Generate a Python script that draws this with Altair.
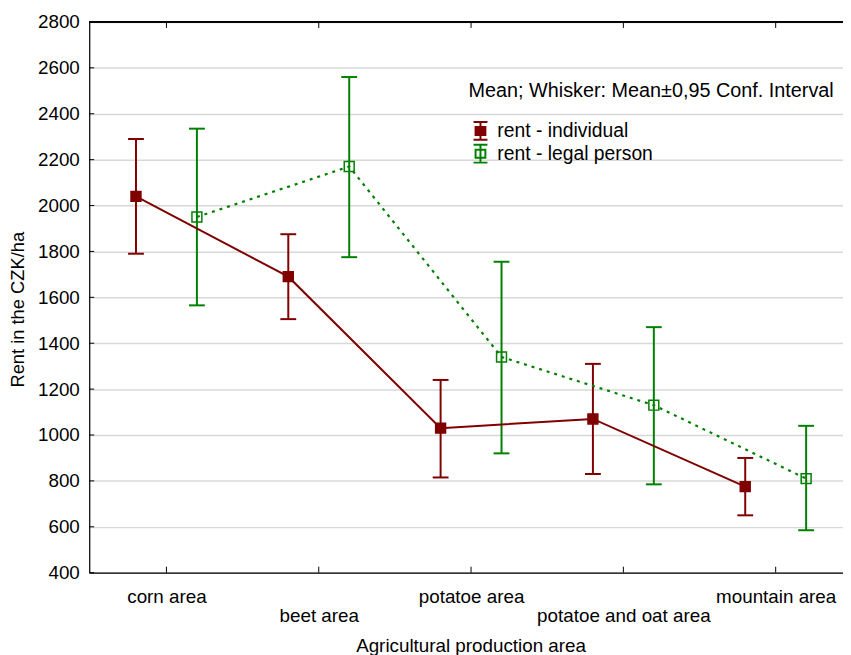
import altair as alt
import pandas as pd

categories = ["corn area", "beet area", "potatoe area", "potatoe and oat area", "mountain area"]
series_names = ["rent - individual", "rent - legal person"]
ind_mean = [2040, 1690, 1030, 1070, 775]
ind_low = [1790, 1505, 815, 830, 650]
ind_high = [2290, 1875, 1240, 1310, 900]
leg_mean = [1950, 2170, 1340, 1130, 810]
leg_low = [1565, 1775, 920, 785, 585]
leg_high = [2335, 2560, 1755, 1470, 1040]
y_ticks = list(range(400, 2801, 200))

RED = "#800000"
GREEN = "#008000"
FONT = "Liberation Sans"
DODGE = 0.2
CAP = 0.052

rows = []
for k, (s, means, lows, highs) in enumerate([(series_names[0], ind_mean, ind_low, ind_high),
                                             (series_names[1], leg_mean, leg_low, leg_high)]):
    off = -DODGE if k == 0 else DODGE
    for i, c in enumerate(categories):
        rows.append({"series": s, "cat": c, "idx": i, "x": i + off,
                     "xa": i + off - CAP, "xb": i + off + CAP,
                     "mean": means[i], "low": lows[i], "high": highs[i]})
df = pd.DataFrame(rows)
caps = pd.concat([df.assign(v=df["low"]), df.assign(v=df["high"])])
cat_df = pd.DataFrame({"idx": list(range(len(categories)))})
ytick_df = pd.DataFrame({"v": y_ticks})

xscale = alt.Scale(domain=[-0.507, 4.442], nice=False, zero=False)
yscale = alt.Scale(domain=[400, 2800], nice=False, zero=False)
stroke_scale = alt.Scale(domain=series_names, range=[RED, GREEN])
fill_scale = alt.Scale(domain=series_names, range=[RED, "transparent"])

names_js = "[" + ",".join("'" + c + "'" for c in categories) + "]"
label_expr = f"datum.value % 2 == 1 ? ['', {names_js}[datum.value]] : {names_js}[datum.value]"

x_axis = alt.Axis(values=list(range(len(categories))), labelExpr=label_expr,
                  ticks=False, grid=False, domainColor="black", domainWidth=1.2,
                  labelFontSize=19, labelColor="black", labelPadding=15,
                  labelLineHeight=19.5, labelFont=FONT, labelAngle=0,
                  title="Agricultural production area", titleFontSize=19,
                  titleFontWeight="normal", titleColor="black", titleFont=FONT,
                  titlePadding=11, titleX=385, labelFlush=False, labelOverlap=False)
y_axis = alt.Axis(values=y_ticks, format="d", ticks=False, grid=True, gridColor="#d8d8d8",
                  gridWidth=1.5, domainColor="black", domainWidth=1.2, labelFontSize=19,
                  labelColor="black", labelPadding=10, labelFont=FONT,
                  title="Rent in the CZK/ha", titleFontSize=18.5, titleFontWeight="normal",
                  titleColor="black", titleFont=FONT, titleX=-72, titleY=290,
                  titleBaseline="middle", labelFlush=False)

legend_symbol = ("M0,-1V1M-0.78,-1H0.78M-0.78,1H0.78"
                 "M-0.55,-0.45H0.55V0.45H-0.55Z")
leg_title = "Mean; Whisker: Mean±0,95 Conf. Interval"
legend_def = alt.Legend(title=leg_title, orient="none", legendX=383, legendY=60,
                        symbolType=legend_symbol, symbolSize=324, symbolStrokeWidth=2,
                        symbolOffset=2, labelFontSize=19.5, labelFont=FONT, labelColor="black",
                        titleFontSize=20, titleFont=FONT, titleFontWeight="normal",
                        titleColor="black", titlePadding=20, rowPadding=-3, padding=0,
                        labelOffset=7, titleLimit=500)

X = lambda f: alt.X(f, scale=xscale, axis=x_axis)
Y = lambda f: alt.Y(f, scale=yscale, axis=y_axis)
S = alt.Stroke("series:N", scale=stroke_scale, legend=legend_def)

base = alt.Chart(df)

line_ind = base.transform_filter(alt.datum.series == series_names[0]).mark_line(
    strokeWidth=2).encode(x=X("x:Q"), y=Y("mean:Q"), stroke=S)
line_leg = base.transform_filter(alt.datum.series == series_names[1]).mark_line(
    strokeWidth=2.2, strokeDash=[3, 5]).encode(x=X("x:Q"), y=Y("mean:Q"), stroke=S)

whiskers = base.mark_rule(strokeWidth=2).encode(
    x=X("x:Q"), y=Y("low:Q"), y2="high:Q", stroke=S)

capmarks = alt.Chart(caps).mark_rule(strokeWidth=2).encode(
    x=X("xa:Q"), x2="xb:Q", y=Y("v:Q"), stroke=S)

points = base.mark_point(shape="square", size=100, strokeWidth=1.5, opacity=1).encode(
    x=X("x:Q"), y=Y("mean:Q"), stroke=S,
    fill=alt.Fill("series:N", scale=fill_scale, legend=legend_def),
)

left_ticks = alt.Chart(ytick_df).mark_rule(color="black", strokeWidth=1).encode(
    y=Y("v:Q"), x=alt.value(0), x2=alt.value(5))

bottom_ticks = alt.Chart(cat_df).mark_rule(color="black", strokeWidth=1).encode(
    x=X("idx:Q"), y=alt.value(556), y2=alt.value(550))

top_ticks = alt.Chart(cat_df).mark_rule(color="black", strokeWidth=1).encode(
    x=X("idx:Q"), y=alt.value(0), y2=alt.value(6))

top_line = alt.Chart(cat_df).mark_rule(color="black", strokeWidth=1.2).encode(
    x=alt.value(0), x2=alt.value("width"), y=alt.value(0))

chart = alt.layer(
    whiskers, capmarks, line_ind, line_leg, points, left_ticks, bottom_ticks, top_ticks, top_line
).properties(
    width=761, height=556,
    autosize=alt.AutoSizeParams(type="none"),
    padding={"left": 82, "top": 11, "right": 0, "bottom": 80},
).configure_view(stroke=None).configure(font=FONT)

chart.save("out.html", embed_options={"renderer": "svg", "actions": False})
